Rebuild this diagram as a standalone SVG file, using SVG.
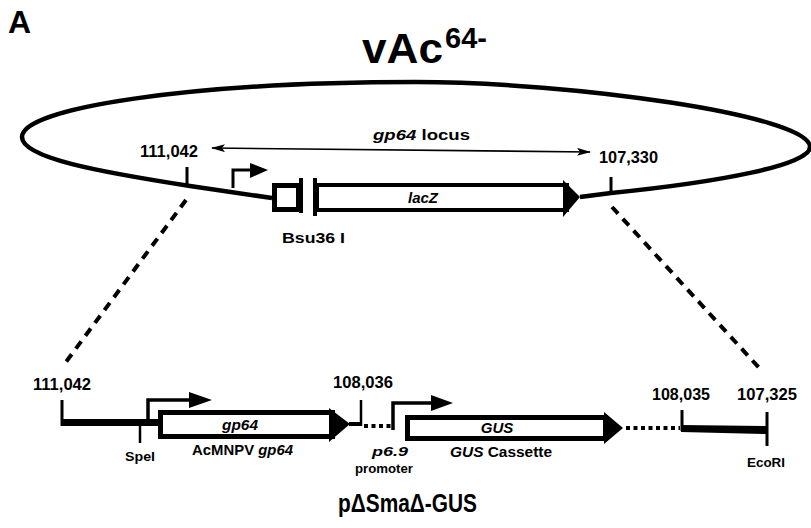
<svg xmlns="http://www.w3.org/2000/svg" width="811" height="528" viewBox="0 0 811 528">
<style>
text{font-family:"Liberation Sans",Arial,sans-serif;font-weight:bold;fill:#000}
.i{font-style:italic}
.ln{fill:none;stroke:#000;stroke-linecap:butt}
.box{fill:#fff;stroke:#000}
.hd{fill:#000;stroke:none}
.dash{fill:none;stroke:#000;stroke-width:4;stroke-dasharray:9 7}
.dot{fill:none;stroke:#000;stroke-width:4;stroke-dasharray:4 3.5}
</style>
<defs>
<marker id="ah" viewBox="0 0 14 8" refX="13" refY="4" markerWidth="14" markerHeight="8" markerUnits="userSpaceOnUse" orient="auto-start-reverse">
<path d="M0,0 L14,4 L0,8 L3,4 Z" fill="#000"/>
</marker>
</defs>
<rect width="811" height="528" fill="#fff"/>
<text x="8" y="33" font-size="32">A</text>
<g id="title">
<text x="362" y="63" font-size="43" textLength="81" lengthAdjust="spacingAndGlyphs">vAc</text>
<text x="445" y="48" font-size="29">64-</text>
</g>
<g id="genome">
<path class="ln" stroke-width="4.5" d="M272,198 L190,186 C100,172 22,158 22,137 C22,108 190,82 416,82 C570,82 810,115 810,147 C810,165 720,182 611,193 L580,197"/>
</g>
<g id="locus">
<line class="ln" x1="212" y1="148" x2="590" y2="152" stroke-width="1.6" marker-start="url(#ah)" marker-end="url(#ah)"/>
<text x="373" y="140" font-size="15" textLength="97" lengthAdjust="spacingAndGlyphs"><tspan class="i">gp64</tspan> locus</text>
</g>
<g id="site-111042-top">
<line class="ln" x1="187" y1="167" x2="187" y2="186" stroke-width="3"/>
<text x="140" y="157" font-size="16" textLength="58" lengthAdjust="spacingAndGlyphs">111,042</text>
</g>
<g id="site-107330-top">
<line class="ln" x1="611" y1="177" x2="611" y2="194" stroke-width="3"/>
<text x="599" y="163" font-size="16" textLength="59" lengthAdjust="spacingAndGlyphs">107,330</text>
</g>
<g id="promoter-top">
<path class="ln" stroke-width="3" d="M233,188 V170 H252"/>
<polygon class="hd" points="250,163 268,170 250,178"/>
</g>
<g id="bsu36">
<rect class="box" x="274.5" y="185.5" width="24" height="24" stroke-width="5"/>
<line class="ln" x1="301" y1="178" x2="301" y2="213" stroke-width="4"/>
<line class="ln" x1="315" y1="178" x2="315" y2="216" stroke-width="4"/>
<text x="282" y="243" font-size="15" textLength="63" lengthAdjust="spacingAndGlyphs">Bsu36 I</text>
</g>
<g id="lacZ">
<rect class="box" x="317" y="185" width="250" height="25" stroke-width="4"/>
<polygon class="hd" points="563,180 580,197 563,217"/>
<text class="i" x="423" y="203" font-size="15" text-anchor="middle">lacZ</text>
</g>
<g id="connectors">
<line class="dash" x1="186" y1="200" x2="63" y2="366"/>
<line class="dash" x1="612" y1="207" x2="762" y2="371"/>
</g>
<g id="site-111042">
<line class="ln" x1="62" y1="400" x2="62" y2="426" stroke-width="3"/>
<line class="ln" x1="61" y1="422.5" x2="160" y2="422.5" stroke-width="7"/>
<text x="33" y="390" font-size="16" textLength="58" lengthAdjust="spacingAndGlyphs">111,042</text>
</g>
<g id="spei">
<line class="ln" x1="140" y1="424" x2="140" y2="443" stroke-width="2.5"/>
<text x="125" y="461" font-size="13" textLength="30" lengthAdjust="spacingAndGlyphs">SpeI</text>
</g>
<g id="promoter-gp64">
<path class="ln" stroke-width="3.5" d="M148,420 V400 H192"/>
<polygon class="hd" points="189,392 212,400 189,408"/>
</g>
<g id="gp64">
<rect class="box" x="160.5" y="412.5" width="172" height="24" stroke-width="5"/>
<polygon class="hd" points="329,408 350,424 329,442"/>
<text class="i" x="222" y="430" font-size="14" textLength="36" lengthAdjust="spacingAndGlyphs">gp64</text>
<text x="192" y="455" font-size="14" textLength="101" lengthAdjust="spacingAndGlyphs">AcMNPV <tspan class="i">gp64</tspan></text>
</g>
<g id="site-108036">
<line class="ln" x1="349" y1="424" x2="362" y2="424" stroke-width="4"/>
<line class="ln" x1="361" y1="400" x2="361" y2="426" stroke-width="2.5"/>
<text x="333" y="388" font-size="16" textLength="60" lengthAdjust="spacingAndGlyphs">108,036</text>
<line class="dot" x1="364" y1="426" x2="392" y2="426"/>
</g>
<g id="promoter-p69">
<path class="ln" stroke-width="3.5" d="M393,430 V403 H434"/>
<polygon class="hd" points="431,395 453,403 431,411"/>
<text class="i" x="372" y="456" font-size="13" textLength="36" lengthAdjust="spacingAndGlyphs">p6.9</text>
<text x="355" y="473" font-size="13" textLength="58" lengthAdjust="spacingAndGlyphs">promoter</text>
</g>
<g id="gus">
<rect class="box" x="407.5" y="417.5" width="198" height="21" stroke-width="5"/>
<polygon class="hd" points="604,412 623,428 604,444"/>
<text class="i" x="497" y="433" font-size="15" text-anchor="middle">GUS</text>
<text x="450" y="457" font-size="14" textLength="102" lengthAdjust="spacingAndGlyphs"><tspan class="i">GUS</tspan> Cassette</text>
</g>
<g id="site-108035">
<line class="dot" x1="626" y1="428" x2="680" y2="428"/>
<line class="ln" x1="682" y1="410" x2="682" y2="431" stroke-width="3"/>
<polygon class="hd" points="681,425 767,426 767,434 681,432"/>
<text x="652" y="400" font-size="16" textLength="58" lengthAdjust="spacingAndGlyphs">108,035</text>
</g>
<g id="site-107325">
<line class="ln" x1="767" y1="412" x2="767" y2="446" stroke-width="3"/>
<text x="737" y="400" font-size="16" textLength="60" lengthAdjust="spacingAndGlyphs">107,325</text>
<text x="747" y="467" font-size="12" textLength="38" lengthAdjust="spacingAndGlyphs">EcoRI</text>
</g>
<text x="338" y="512" font-size="25" textLength="139" lengthAdjust="spacingAndGlyphs">pΔSmaΔ-GUS</text>
</svg>
